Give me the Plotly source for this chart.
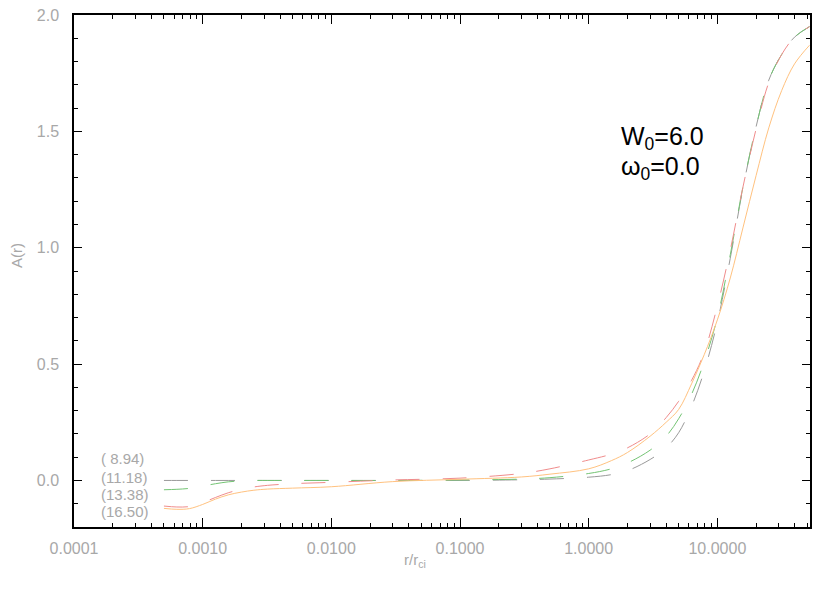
import plotly.graph_objects as go

# ---- data ----
r_vals = [0.0005, 0.00063, 0.00079, 0.001, 0.00126, 0.00158, 0.002, 0.0025, 0.0032,
          0.005, 0.01, 0.03, 0.1, 0.3, 0.5, 1.0, 1.5, 2.0, 3.0, 4.0,
          5.0, 6.3, 7.9, 10.0, 12.6, 15.8, 20.0, 25.1, 31.6, 39.8, 52.0]

a_894 = [0, 0, 0, 0, 0, 0, 0, 0, 0,
         0, 0, 0, 0, 0.003, 0.006, 0.014, 0.025, 0.042, 0.09, 0.14,
         0.205, 0.318, 0.47, 0.68, 0.955, 1.255, 1.52, 1.72, 1.83, 1.905, 1.95]

a_1118 = [-0.04, -0.038, -0.034, -0.024, -0.014, -0.006, -0.002, 0, 0,
          0, 0, 0, 0.002, 0.006, 0.012, 0.03, 0.05, 0.075, 0.13, 0.19,
          0.265, 0.37, 0.51, 0.70, 0.97, 1.26, 1.52, 1.72, 1.83, 1.905, 1.95]

a_1338 = [-0.11, -0.114, -0.112, -0.095, -0.073, -0.053, -0.038, -0.028, -0.021,
          -0.014, -0.008, 0.002, 0.01, 0.03, 0.05, 0.088, 0.113, 0.14, 0.20, 0.27,
          0.34, 0.43, 0.55, 0.75, 0.99, 1.26, 1.51, 1.71, 1.83, 1.905, 1.95]

a_1650 = [-0.12, -0.124, -0.121, -0.103, -0.08, -0.062, -0.05, -0.042, -0.037,
          -0.033, -0.027, -0.005, 0.005, 0.015, 0.027, 0.05, 0.085, 0.12, 0.19, 0.25,
          0.305, 0.415, 0.54, 0.69, 0.87, 1.085, 1.31, 1.515, 1.675, 1.79, 1.87]

series_labels = ["( 8.94)", "(11.18)", "(13.38)", "(16.50)"]
series_colors = ["#9a9a9a", "#74c474", "#f08c8c", "#ffc27f"]
series_dash = ["24px,23px", "24px,23px", "24px,23px", "solid"]
series_values = [a_894, a_1118, a_1338, a_1650]

x_tickvals = [0.0001, 0.001, 0.01, 0.1, 1.0, 10.0]
x_ticktext = ["0.0001", "0.0010", "0.0100", "0.1000", "1.0000", "10.0000"]

fig = go.Figure()
for lab, col, dsh, vals in zip(series_labels, series_colors, series_dash, series_values):
    fig.add_trace(go.Scatter(
        x=r_vals, y=vals, mode="lines", name=lab,
        line=dict(color=col, width=1, dash=dsh, shape="spline", smoothing=1.0),
        showlegend=False))

minor_x = [m * 10 ** e for e in range(-4, 2) for m in range(2, 10)]

label_font = "Liberation Sans, Arial, sans-serif"
gray_txt = "#a8a8a8"

fig.update_xaxes(
    type="log", range=[-4, 1.72], automargin=False,
    tickvals=x_tickvals, ticktext=x_ticktext,
    ticks="inside", ticklen=9, tickwidth=1, tickcolor="black",
    showline=True, linecolor="black", linewidth=1.5, mirror="ticks",
    showgrid=False, zeroline=False,
    tickfont=dict(family=label_font, size=16, color=gray_txt),
    ticklabelstandoff=6, ticklabeloverflow="allow",
    minor=dict(ticks="inside", ticklen=4, tickwidth=1, tickcolor="black",
               tickvals=minor_x, showgrid=False),
)
fig.update_yaxes(
    range=[-0.2, 2.0], tick0=0, dtick=0.5, tickformat=".1f", automargin=False,
    ticks="inside", ticklen=8, tickwidth=1, tickcolor="black",
    showline=True, linecolor="black", linewidth=1.5, mirror="ticks",
    showgrid=False, zeroline=False,
    tickfont=dict(family=label_font, size=16, color=gray_txt),
    ticklabelstandoff=10, ticklabeloverflow="allow",
    minor=dict(ticks="inside", ticklen=4, tickwidth=1, tickcolor="black",
               dtick=0.1, tick0=0, showgrid=False),
)

# axis titles
fig.add_annotation(text="r/r<sub>ci</sub>", xref="paper", yref="paper",
                   x=(415 - 74) / 736, y=(527 - 560) / 512, xanchor="center", yanchor="middle",
                   showarrow=False, font=dict(family=label_font, size=15, color=gray_txt))
fig.add_annotation(text="A(r)", xref="paper", yref="paper", textangle=-90,
                   x=(16 - 74) / 736, y=(527 - 256) / 512, xanchor="center", yanchor="middle",
                   showarrow=False, font=dict(family=label_font, size=15, color=gray_txt))

# series labels (left, bottom)
label_y_px = [458, 477, 494, 511]
for lab, ypx in zip(series_labels, label_y_px):
    fig.add_annotation(text=lab, xref="paper", yref="paper",
                       x=(99 - 74) / 736, y=(527 - ypx) / 512,
                       xanchor="left", yanchor="middle", showarrow=False,
                       font=dict(family=label_font, size=15, color=gray_txt))

fig.add_annotation(text="W<sub>0</sub>=6.0", xref="paper", yref="paper",
                   x=(619 - 74) / 736, y=(527 - 138) / 512, xanchor="left", yanchor="middle",
                   showarrow=False, font=dict(family=label_font, size=25, color="black"))
fig.add_annotation(text="ω<sub>0</sub>=0.0", xref="paper", yref="paper",
                   x=(619 - 74) / 736, y=(527 - 168) / 512, xanchor="left", yanchor="middle",
                   showarrow=False, font=dict(family=label_font, size=25, color="black"))

# page has an 8px body margin, so the figure is shifted by 8px; compensate
fig.update_layout(
    width=822, height=585,
    margin=dict(l=66, r=20, t=7, b=66, autoexpand=False),
    paper_bgcolor="white", plot_bgcolor="white",
    showlegend=False,
)

fig.write_html("out.html")
